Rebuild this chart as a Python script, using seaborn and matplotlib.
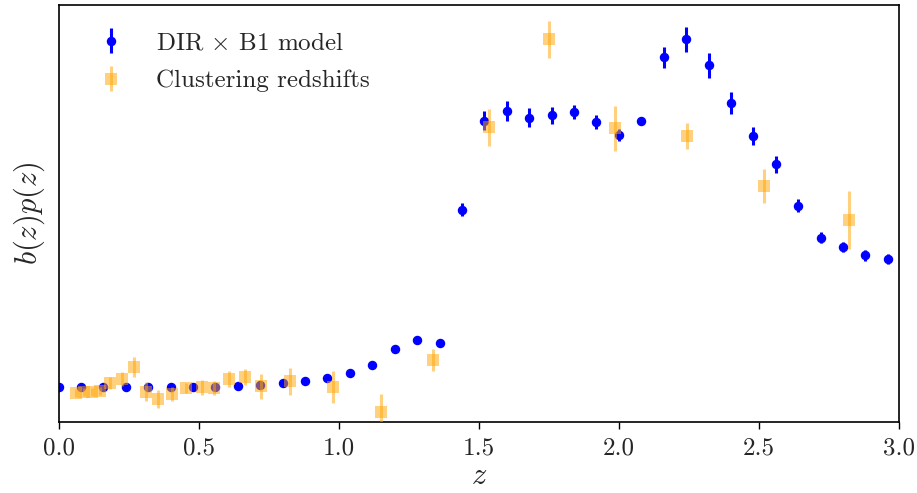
import numpy as np
import matplotlib
matplotlib.use("Agg")
import matplotlib.pyplot as plt
import seaborn as sns

# DIR x B1 model (blue points)
z_model = [0.00, 0.08, 0.16, 0.24, 0.32, 0.40, 0.48, 0.56, 0.64, 0.72,
           0.80, 0.88, 0.96, 1.04, 1.12, 1.20, 1.28, 1.36, 1.44, 1.52,
           1.60, 1.68, 1.76, 1.84, 1.92, 2.00, 2.08, 2.16, 2.24, 2.32,
           2.40, 2.48, 2.56, 2.64, 2.72, 2.80, 2.88, 2.96]
bp_model = [0.347, 0.35, 0.35, 0.35, 0.35, 0.35, 0.35, 0.35, 0.363, 0.37,
            0.387, 0.413, 0.443, 0.49, 0.573, 0.73, 0.823, 0.793, 2.123, 3.013,
            3.11, 3.043, 3.067, 3.10, 3.00, 2.87, 3.013, 3.647, 3.827, 3.567,
            3.187, 2.86, 2.577, 2.163, 1.843, 1.75, 1.667, 1.63]
err_model = [0.01, 0.01, 0.01, 0.01, 0.01, 0.01, 0.01, 0.01, 0.01, 0.01,
             0.01, 0.01, 0.01, 0.01, 0.015, 0.015, 0.02, 0.02, 0.068, 0.097,
             0.103, 0.097, 0.083, 0.07, 0.07, 0.063, 0.03, 0.105, 0.127, 0.125,
             0.112, 0.093, 0.087, 0.068, 0.057, 0.053, 0.053, 0.052]

# Clustering redshifts (orange squares)
z_clust = [0.064, 0.092, 0.120, 0.147, 0.183, 0.225, 0.269, 0.311, 0.355, 0.404,
           0.454, 0.511, 0.555, 0.608, 0.664, 0.721, 0.826, 0.981, 1.151, 1.335,
           1.535, 1.751, 1.987, 2.243, 2.519, 2.821]
bp_clust = [0.295, 0.30, 0.305, 0.31, 0.387, 0.427, 0.553, 0.303, 0.23, 0.283,
            0.337, 0.347, 0.343, 0.427, 0.447, 0.357, 0.407, 0.35, 0.097, 0.617,
            2.947, 3.827, 2.937, 2.86, 2.36, 2.02]
err_clust = [0.04, 0.04, 0.04, 0.04, 0.06, 0.07, 0.10, 0.097, 0.09, 0.07,
             0.05, 0.075, 0.07, 0.08, 0.08, 0.125, 0.133, 0.16, 0.18, 0.11,
             0.183, 0.183, 0.223, 0.13, 0.167, 0.29]

xticks = [0.0, 0.5, 1.0, 1.5, 2.0, 2.5, 3.0]
xticklabels = ["0.0", "0.5", "1.0", "1.5", "2.0", "2.5", "3.0"]

sns.set_style("ticks")
plt.rcParams["font.family"] = ["serif"]
plt.rcParams["font.serif"] = ["cmr10", "DejaVu Serif"]
plt.rcParams["mathtext.fontset"] = "cm"
plt.rcParams["axes.formatter.use_mathtext"] = True
plt.rcParams["axes.unicode_minus"] = False

fig = plt.figure(figsize=(9.17, 4.93), dpi=100)
ax = fig.add_axes([0.0638, 0.144, 0.9166, 0.846])

ax.errorbar(z_model, bp_model, yerr=err_model, fmt="o", color="blue",
            markersize=5.8, elinewidth=2.2, capsize=0,
            label=r"DIR $\times$ B1 model", zorder=2)
ax.errorbar(z_clust, bp_clust, yerr=err_clust, fmt="s", color="orange",
            alpha=0.5, markersize=8.6, elinewidth=2.2, capsize=0,
            markeredgewidth=0, label="Clustering redshifts", zorder=3)

ax.set_xlim(0, 3.0)
ax.set_ylim(0, 4.17)
ax.set_xticks(xticks)
ax.set_xticklabels(xticklabels)
ax.set_yticks([])
ax.tick_params(axis="x", direction="out", length=5, width=1, labelsize=18,
               color="black", pad=6)
for s in ax.spines.values():
    s.set_color("black")
    s.set_linewidth(1.2)

ax.set_xlabel(r"$z$", fontsize=22, labelpad=2)
ax.set_ylabel(r"$b(z)p(z)$", fontsize=22, labelpad=8)

ax.legend(loc="upper left", frameon=False, fontsize=18,
          borderaxespad=0.68, labelspacing=0.62)

fig.savefig("out.png", dpi=100)
